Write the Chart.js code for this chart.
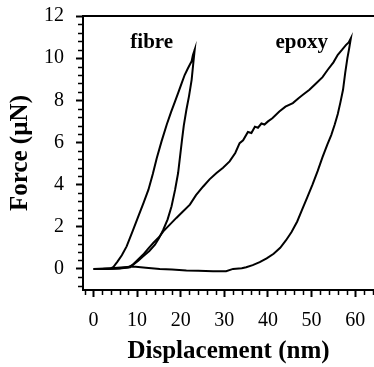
<!DOCTYPE html>
<html>
<head>
<meta charset="utf-8">
<script src="https://cdn.jsdelivr.net/npm/chart.js@4"></script>
<style>
    html, body { margin: 0; padding: 0; background: #fff; overflow: hidden; }
    #wrap { width: 374px; height: 367px; }
</style>
</head>
<body>
<div id="wrap"><canvas id="chart"></canvas></div>
<script>
// Force-displacement curves (loading then unloading)
const fibreX = [0, 2, 4, 4.6, 5.5, 6.5, 7.6, 9, 10.3, 11.5, 12.6, 13.6, 14.5, 15.6, 16.8, 17.8, 18.7, 19.5, 20.2, 20.9, 21.6, 22.1, 22.5, 22.8, 23.2,
    22.9, 22.5, 21.9, 21.3, 20.7, 20.3, 19.4, 18.7, 17.9, 17.0, 16.0, 15.0, 14.1, 12.8, 11.4, 10.2, 9.1, 8.0, 6, 3, 0];
const fibreY = [0, 0, 0.03, 0.1, 0.35, 0.65, 1.07, 1.8, 2.5, 3.15, 3.76, 4.5, 5.25, 6.05, 6.85, 7.45, 7.95, 8.4, 8.8, 9.2, 9.5, 9.7, 9.85, 10.15, 10.4,
    9.8, 8.97, 8.2, 7.55, 6.8, 6.13, 4.55, 3.75, 2.97, 2.35, 1.86, 1.45, 1.15, 0.85, 0.6, 0.38, 0.2, 0.08, 0.03, 0, 0];

const epoxyX = [0, 3, 6, 8.4, 10, 11.4, 12.5, 13.7, 15, 16, 17.5, 19, 20.5, 22.1, 23.5, 25.1, 26.6, 28.2, 29.7, 31.2, 32.5, 33.5, 34.3, 35.4,
    36.2, 37.0, 37.7, 38.5, 39.2, 40, 41, 42.6, 44, 45.7, 47, 48, 49.5, 51, 52.5, 53.7, 55, 56, 57, 57.9, 58.5, 59.0,
    58.6, 58.2, 57.7, 57.2, 56.6, 56.0, 55.3, 54.5, 53.6, 52.5, 51.4, 50.2, 49.0, 47.8, 46.7, 45.4, 44.1, 42.8, 41.3, 39.7, 38.1, 36.5, 35.0, 34.0,
    32, 30.4, 27.4, 24, 21.3, 18, 15.2, 12, 9.1, 7, 4, 0];
const epoxyY = [0, 0, 0.02, 0.08, 0.4, 0.68, 0.95, 1.23, 1.5, 1.78, 2.1, 2.42, 2.72, 3.05, 3.5, 3.9, 4.25, 4.55, 4.8, 5.1, 5.5, 5.97, 6.1, 6.5,
    6.45, 6.75, 6.7, 6.9, 6.85, 7.0, 7.15, 7.47, 7.7, 7.87, 8.1, 8.26, 8.5, 8.8, 9.1, 9.45, 9.8, 10.16, 10.4, 10.63, 10.75, 10.95,
    10.45, 10.0, 9.3, 8.5, 7.9, 7.35, 6.85, 6.35, 5.9, 5.3, 4.65, 4.0, 3.4, 2.8, 2.25, 1.75, 1.35, 1.0, 0.72, 0.5, 0.32, 0.18, 0.08, 0.03,
    0.0, -0.11, -0.11, -0.09, -0.07, -0.03, 0, 0.06, 0.12, 0.08, 0.03, 0];

const xTicks = [0, 10, 20, 30, 40, 50, 60];
const yTicks = [0, 2, 4, 6, 8, 10, 12];

// curve labels: text and anchor (data coordinates)
const labelText = ['fibre', 'epoxy'];
const labelX = [13.35, 47.75];
const labelY = [10.49, 10.49];

const serif = "'Liberation Serif', 'Times New Roman', serif";

function toPoints(xs, ys) {
    return xs.map((x, i) => ({ x: x, y: ys[i] }));
}

/**
 * Minor ticks, top frame line and curve labels
 */
const decorPlugin = {
    id: 'decor',
    afterDraw(chart) {
        const ctx = chart.ctx;
        const area = chart.chartArea;
        const xs = chart.scales.x;
        const ys = chart.scales.y;
        ctx.save();
        ctx.strokeStyle = '#000';
        ctx.lineWidth = 2;

        // top frame
        ctx.beginPath();
        ctx.moveTo(area.left - 1, area.top);
        ctx.lineTo(area.right, area.top);
        ctx.stroke();

        // minor ticks on x every 2 nm
        ctx.lineWidth = 1.5;
        ctx.beginPath();
        for (let v = -2; v <= xs.max; v += 2) {
            if (v % 10 === 0 || v < xs.min) continue;
            const px = Math.round(xs.getPixelForValue(v)) + 0.5;
            ctx.moveTo(px, area.bottom);
            ctx.lineTo(px, area.bottom + 5);
        }
        // minor ticks on y every 0.4
        for (let k = -2; k <= 30; k++) {
            const v = k * 0.4;
            if (k % 5 === 0 || v < ys.min) continue;
            const py = Math.round(ys.getPixelForValue(v)) + 0.5;
            ctx.moveTo(area.left, py);
            ctx.lineTo(area.left - 5, py);
        }
        ctx.stroke();

        // curve labels
        ctx.fillStyle = '#000';
        ctx.font = 'bold 21px ' + serif;
        ctx.textAlign = 'center';
        ctx.textBaseline = 'alphabetic';
        labelText.forEach((t, i) => {
            ctx.fillText(t, xs.getPixelForValue(labelX[i]), ys.getPixelForValue(labelY[i]));
        });
        ctx.restore();
    }
};

const lineStyle = {
    borderColor: '#000',
    borderWidth: 2,
    pointRadius: 0,
    showLine: true,
    fill: false,
    tension: 0
};

new Chart(document.getElementById('chart'), {
    type: 'scatter',
    data: {
        datasets: [
            Object.assign({ label: 'fibre', data: toPoints(fibreX, fibreY) }, lineStyle),
            Object.assign({ label: 'epoxy', data: toPoints(epoxyX, epoxyY) }, lineStyle)
        ]
    },
    options: {
        responsive: true,
        maintainAspectRatio: false,
        animation: false,
        layout: { padding: { top: 16, right: 0, left: 0, bottom: 0 } },
        plugins: {
            legend: { display: false },
            tooltip: { enabled: false }
        },
        scales: {
            x: {
                type: 'linear',
                min: -2.4,
                max: 64.3,
                afterBuildTicks: s => { s.ticks = xTicks.map(v => ({ value: v })); },
                afterFit: s => { s.height = 77; s.paddingLeft = 0; s.paddingRight = 0; },
                grid: { drawOnChartArea: false, drawTicks: true, tickLength: 7, tickColor: '#000', tickWidth: 2 },
                border: { display: true, color: '#000', width: 2 },
                ticks: { color: '#000', font: { family: serif, size: 20 }, padding: 12, maxRotation: 0 },
                title: {
                    display: true,
                    text: 'Displacement (nm)',
                    color: '#000',
                    font: { family: serif, size: 25, weight: 'bold', lineHeight: 1.2 },
                    padding: { top: 0, bottom: 0 }
                }
            },
            y: {
                type: 'linear',
                min: -1,
                max: 12,
                afterBuildTicks: s => { s.ticks = yTicks.map(v => ({ value: v })); },
                afterFit: s => { s.width = 83; s.paddingTop = 0; s.paddingBottom = 0; },
                grid: { drawOnChartArea: false, drawTicks: true, tickLength: 7, tickColor: '#000', tickWidth: 2 },
                border: { display: true, color: '#000', width: 2 },
                ticks: { color: '#000', font: { family: serif, size: 20 }, padding: 12 },
                title: {
                    display: true,
                    text: 'Force (µN)',
                    color: '#000',
                    font: { family: serif, size: 25, weight: 'bold', lineHeight: 1.2 },
                    padding: { top: 6, bottom: 0 }
                }
            }
        }
    },
    plugins: [decorPlugin]
});
</script>
</body>
</html>
